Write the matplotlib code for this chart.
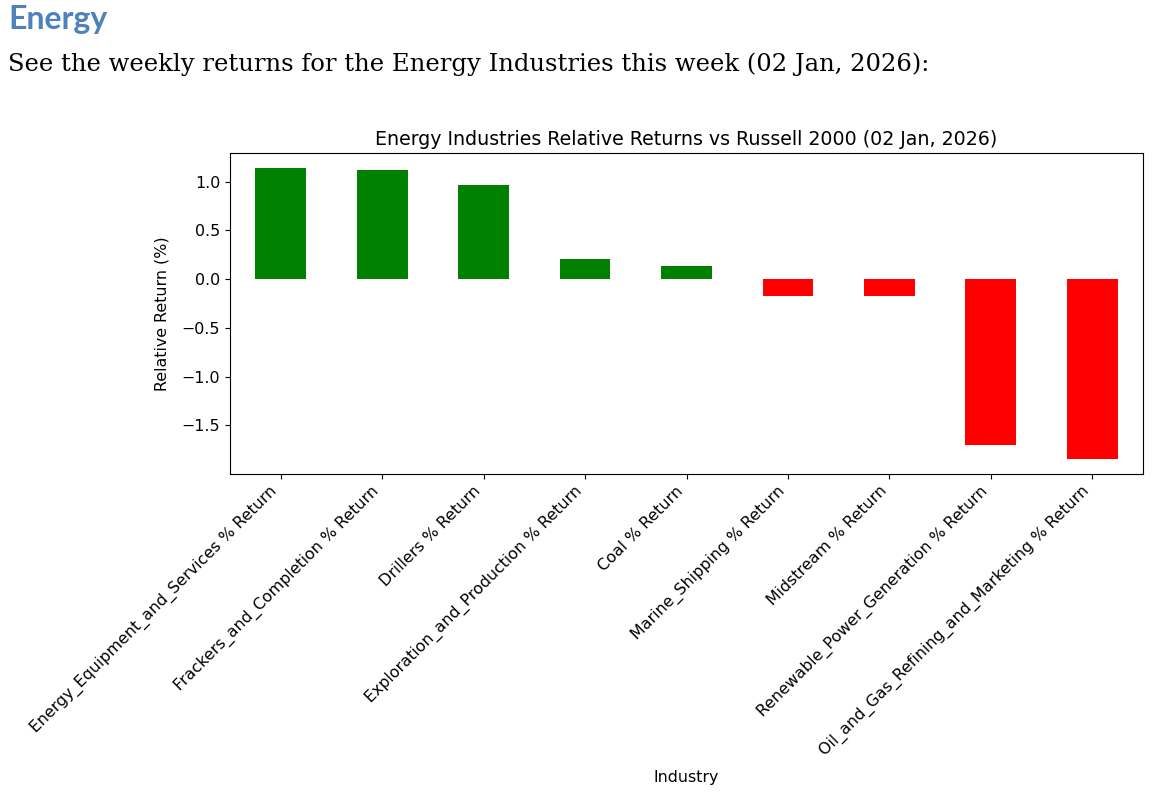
import matplotlib
matplotlib.use("Agg")
import matplotlib.pyplot as plt

industries = [
    "Energy_Equipment_and_Services % Return",
    "Frackers_and_Completion % Return",
    "Drillers % Return",
    "Exploration_and_Production % Return",
    "Coal % Return",
    "Marine_Shipping % Return",
    "Midstream % Return",
    "Renewable_Power_Generation % Return",
    "Oil_and_Gas_Refining_and_Marketing % Return",
]
relative_returns = [1.145, 1.118, 0.964, 0.21, 0.135, -0.167, -0.177, -1.695, -1.843]

header = "Energy"
intro = "See the weekly returns for the Energy Industries this week (02 Jan, 2026):"
title = "Energy Industries Relative Returns vs Russell 2000 (02 Jan, 2026)"

fig = plt.figure(figsize=(11.62, 8.08), dpi=100)
fig.patch.set_facecolor("white")

fig.text(8/1162, 1 - 29/808, header, fontsize=23, fontweight="bold",
         color="#4F81BD", family="Lato", va="baseline", ha="left")
fig.text(8/1162, 1 - 71/808, intro, fontsize=17.5, color="black",
         family="DejaVu Serif", va="baseline", ha="left")

ax = fig.add_axes([230/1162, 1 - 473.5/808, (1143 - 230)/1162, (473.5 - 153)/808])
colors = ["green" if v >= 0 else "red" for v in relative_returns]
x = list(range(len(industries)))
ax.bar(x, relative_returns, width=0.5, color=colors)
ax.set_xlim(-0.5, len(industries) - 0.5)
ax.margins(y=0.05)
ax.set_xticks(x)
ax.set_xticklabels(industries, rotation=45, ha="right", fontsize=11.4)
ax.tick_params(axis="y", labelsize=11.4)
ax.set_title(title, fontsize=13.7)
ax.set_xlabel("Industry", fontsize=11.4, labelpad=8)
ax.set_ylabel("Relative Return (%)", fontsize=11.4, labelpad=9)

fig.savefig("out.png", dpi=100, facecolor="white")
